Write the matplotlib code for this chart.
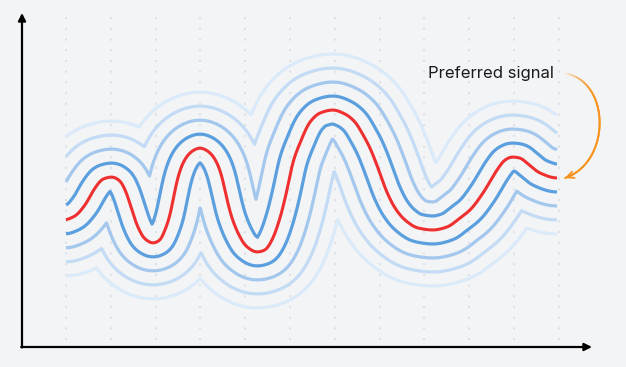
import numpy as np
import matplotlib
matplotlib.use("Agg")
import matplotlib.pyplot as plt
from matplotlib.collections import LineCollection

# preferred signal (x: time, y: level)
sig_x = [0, 9, 19, 29, 37, 46, 54, 60, 65, 71, 79, 87, 94, 99, 104, 108, 112,
         117, 122, 128, 134, 140, 146, 151, 156, 160, 165, 172, 180, 191, 199,
         206, 214, 221, 227, 234, 244, 254, 267, 279, 289, 296, 304, 312, 320,
         329, 339, 352, 367, 381, 394, 404, 417, 431, 439, 446, 454, 461, 474,
         491]
sig_y = [127, 131, 142, 159, 168, 170, 166, 155, 140, 122, 108, 104, 107, 117,
         132, 152, 170, 184, 192, 197, 199, 197, 192, 184, 170, 152, 132, 114,
         101, 95, 97, 107, 129, 157, 185, 204, 225, 234, 237, 233, 225, 214,
         199, 179, 157, 139, 127, 119, 117, 120, 129, 137, 154, 177, 187, 190,
         189, 184, 174, 169]

# neighbouring signals: distance from the preferred one
offsets = [14, 28, 42, 56]
colors = ["#5b9fde", "#a3c7ed", "#c3dbf4", "#daeaf9"]
grid_x = np.arange(12) * 44.8

label = "Preferred signal"


def pchip(x, y, xn):
    x = np.asarray(x, float)
    y = np.asarray(y, float)
    h = np.diff(x)
    dl = np.diff(y) / h
    m = np.zeros_like(y)
    for k in range(1, len(x) - 1):
        if dl[k - 1] * dl[k] > 0:
            w1 = 2 * h[k] + h[k - 1]
            w2 = h[k] + 2 * h[k - 1]
            m[k] = (w1 + w2) / (w1 / dl[k - 1] + w2 / dl[k])
    m[0] = dl[0]
    m[-1] = 0
    idx = np.clip(np.searchsorted(x, xn) - 1, 0, len(x) - 2)
    t = (xn - x[idx]) / h[idx]
    h00 = 2 * t**3 - 3 * t**2 + 1
    h10 = t**3 - 2 * t**2 + t
    h01 = -2 * t**3 + 3 * t**2
    h11 = t**3 - t**2
    return (h00 * y[idx] + h10 * h[idx] * m[idx] + h01 * y[idx + 1]
            + h11 * h[idx] * m[idx + 1])


step = 0.2
xr = np.arange(0, sig_x[-1] + 0.01, step)
yr = pchip(sig_x, sig_y, xr)
# soften the joins a little
k = np.arange(-15, 16) * step
ker = np.exp(-0.5 * (k / 1.8) ** 2)
ker /= ker.sum()
yr = np.convolve(np.pad(yr, 15, mode="edge"), ker, mode="valid")
xe = np.arange(0, sig_x[-1] + 0.01, 0.5)


def envelope(d, side):
    dx = xe[:, None] - xr[None, :]
    ok = np.abs(dx) <= d
    hh = np.sqrt(np.clip(d * d - dx * dx, 0, None))
    if side > 0:
        return np.max(np.where(ok, yr[None, :] + hh, -np.inf), axis=1)
    return np.min(np.where(ok, yr[None, :] - hh, np.inf), axis=1)


fig = plt.figure(figsize=(6.26, 3.67), dpi=100)
fig.patch.set_facecolor("#f3f4f6")
ax = fig.add_axes([0, 0, 1, 1])
ax.set_facecolor("#f3f4f6")
ax.set_xlim(-66, 560)
ax.set_ylim(-20, 347)
ax.axis("off")

for gx in grid_x:
    ax.plot([gx, gx], [7, 332], color="#dcdfe3", lw=1.4,
            linestyle=(0, (1, 4.5)), zorder=1)

for d, c, z in reversed(list(zip(offsets, colors, [5, 4, 3, 2]))):
    for side in (1, -1):
        ax.plot(xe, envelope(d, side), color=c, lw=2.3, zorder=z,
                solid_capstyle="butt", solid_joinstyle="round")
ax.plot(xr, yr, color="#ee3030", lw=2.2, zorder=6, solid_capstyle="butt")

# axes with arrows
ax.annotate("", xy=(-44, 334), xytext=(-44, -0.5),
            arrowprops=dict(arrowstyle="-|>", lw=1.6, color="black",
                            mutation_scale=11, shrinkA=0, shrinkB=0))
ax.annotate("", xy=(526, 0), xytext=(-44.8, 0),
            arrowprops=dict(arrowstyle="-|>", lw=1.6, color="black",
                            mutation_scale=11, shrinkA=0, shrinkB=0))

ax.text(488, 269, label, ha="right", va="baseline", fontsize=12,
        family=["Inter", "DejaVu Sans"], color="#1a1a1a")

# curved orange arrow pointing at the end of the preferred signal
p0 = np.array([497.0, 274.0])
p1 = np.array([545.0, 268.0])
p2 = np.array([546.0, 185.0])
p3 = np.array([sig_x[-1] + 8.0, sig_y[-1]])
t = np.linspace(0, 1, 120)[:, None]
pts = ((1 - t)**3 * p0 + 3 * (1 - t)**2 * t * p1 + 3 * (1 - t) * t**2 * p2
       + t**3 * p3)
segs = np.stack([pts[:-1], pts[1:]], axis=1)
alpha = np.clip(np.linspace(0, 1, len(segs)) / 0.35, 0, 1)
rgba = np.array([matplotlib.colors.to_rgba("#f7941d", a) for a in alpha])
ax.add_collection(LineCollection(segs, colors=rgba, lw=1.4, zorder=7,
                                 capstyle="round"))
ax.annotate("", xy=pts[-1], xytext=pts[-4],
            arrowprops=dict(arrowstyle="->", lw=1.4, color="#f7941d",
                            mutation_scale=12, shrinkA=0, shrinkB=0))

fig.savefig("out.png", dpi=100, facecolor=fig.get_facecolor())
